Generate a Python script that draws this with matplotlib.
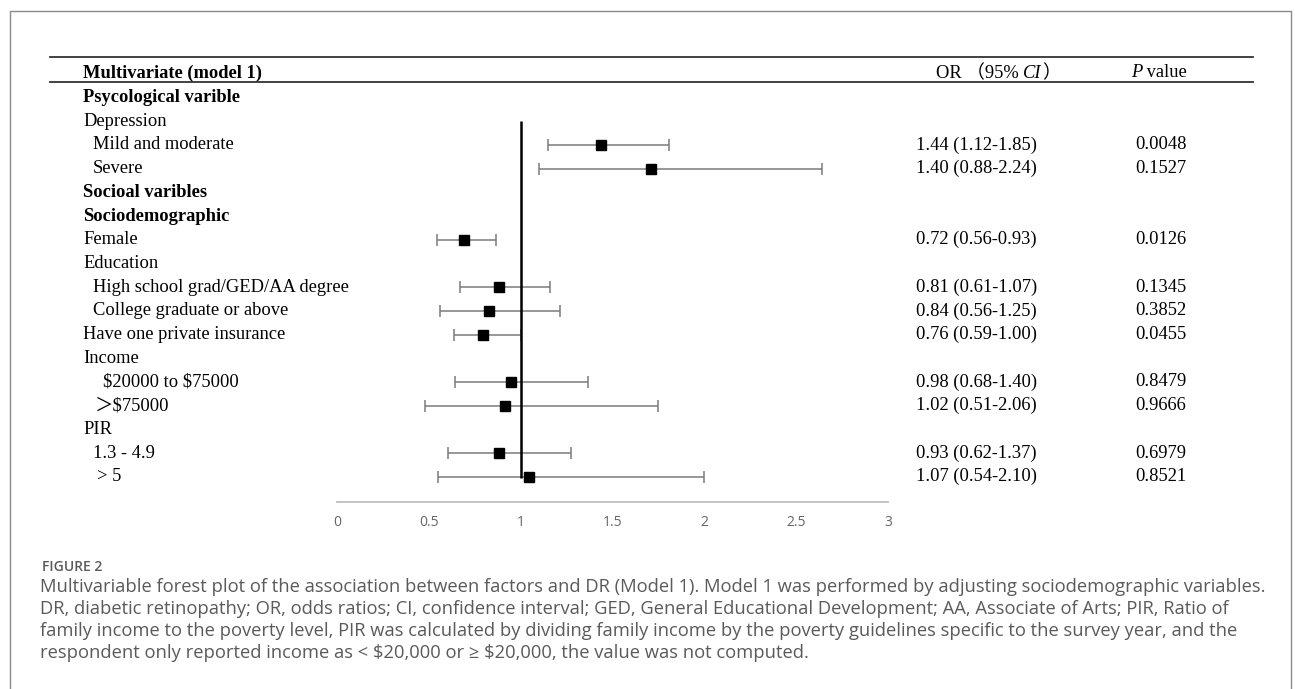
import matplotlib
matplotlib.use("Agg")
import matplotlib.pyplot as plt
import matplotlib.transforms as mtransforms
from matplotlib.lines import Line2D
import numpy as np

# ---- 数据 ----
labels = ["Psycological varible", "Depression", "Mild and moderate", "Severe",
          "Socioal varibles", "Sociodemographic", "Female", "Education",
          "High school grad/GED/AA degree", "College graduate or above",
          "Have one private insurance", "Income", "$20000 to $75000", "＞$75000",
          "PIR", "1.3 - 4.9", "> 5"]
bold = [True, False, False, False, True, True, False, False,
        False, False, False, False, False, False, False, False, False]
indent = [0, 0, 10, 10, 0, 0, 0, 0, 10, 10, 0, 0, 20, 12, 0, 10, 14]

# 图上方块和置信区间
or_plot = [np.nan, np.nan, 1.44, 1.71, np.nan, np.nan, 0.69, np.nan, 0.88, 0.83,
           0.795, np.nan, 0.945, 0.915, np.nan, 0.88, 1.045]
ci_low = [np.nan, np.nan, 1.15, 1.10, np.nan, np.nan, 0.545, np.nan, 0.67, 0.56,
          0.635, np.nan, 0.645, 0.48, np.nan, 0.605, 0.55]
ci_high = [np.nan, np.nan, 1.81, 2.64, np.nan, np.nan, 0.865, np.nan, 1.16, 1.215,
           1.00, np.nan, 1.365, 1.75, np.nan, 1.275, 2.0]

or_text = ["", "", "1.44 (1.12-1.85)", "1.40 (0.88-2.24)", "", "", "0.72 (0.56-0.93)", "",
           "0.81 (0.61-1.07)", "0.84 (0.56-1.25)", "0.76 (0.59-1.00)", "",
           "0.98 (0.68-1.40)", "1.02 (0.51-2.06)", "", "0.93 (0.62-1.37)", "1.07 (0.54-2.10)"]
p_text = ["", "", "0.0048", "0.1527", "", "", "0.0126", "", "0.1345", "0.3852", "0.0455", "",
          "0.8479", "0.9666", "", "0.6979", "0.8521"]

x_ticks = [0, 0.5, 1, 1.5, 2, 2.5, 3]

caption = ("Multivariable forest plot of the association between factors and DR (Model 1). "
           "Model 1 was performed by adjusting sociodemographic variables.\n"
           "DR, diabetic retinopathy; OR, odds ratios; CI, confidence interval; GED, General "
           "Educational Development; AA, Associate of Arts; PIR, Ratio of\n"
           "family income to the poverty level, PIR was calculated by dividing family income by "
           "the poverty guidelines specific to the survey year, and the\n"
           "respondent only reported income as < $20,000 or ≥ $20,000, the value was not computed.")

W, H = 1295, 689
SERIF = ["Liberation Serif", "Noto Sans CJK SC"]
FS = 13.3

fig = plt.figure(figsize=(W / 100, H / 100), dpi=100)

# 行坐标：第 0 行在 y=97.6 px，行距 23.7 px
row0, dy = 97.6, 23.7
def row_of(ypx):
    return (ypx - row0) / dy

ax_top, ax_bot = 40, 502
ax = fig.add_axes([337 / W, 1 - ax_bot / H, 551 / W, (ax_bot - ax_top) / H])
ax.set_xlim(0, 3)
ax.set_ylim(row_of(ax_bot), row_of(ax_top))

rows = np.arange(len(labels))
or_plot = np.array(or_plot)
ci_low = np.array(ci_low)
ci_high = np.array(ci_high)
err = [or_plot - ci_low, ci_high - or_plot]
ax.errorbar(or_plot, rows, xerr=err, fmt="none", ecolor="#7a7a7a", elinewidth=1.1,
            capsize=4, capthick=1.1)
ax.plot(or_plot, rows, "s", color="black", markersize=6.5)
ax.vlines(1, 0.97, 16.05, color="black", linewidth=1.8)

# 坐标轴样式
for s in ["top", "right", "left"]:
    ax.spines[s].set_visible(False)
ax.spines["bottom"].set_color("#bfbfbf")
ax.spines["bottom"].set_linewidth(1.3)
ax.set_yticks([])
ax.set_xticks(x_ticks)
ax.set_xticklabels([f"{t:g}" for t in x_ticks], fontsize=10, color="#666666",
                   family="Open Sans")
ax.tick_params(axis="x", which="major", length=0, pad=9)
ax.set_xticks([0, 3], minor=True)
ax.tick_params(axis="x", which="minor", length=4, color="#bfbfbf", width=1.3)
ax.patch.set_alpha(0)

blend = mtransforms.blended_transform_factory(fig.transFigure, ax.transData)

# 左侧标签
for i, lab in enumerate(labels):
    ax.text((83 + indent[i]) / W, i, lab, transform=blend, fontsize=FS, family=SERIF,
            fontweight="bold" if bold[i] else "normal", va="center", ha="left",
            parse_math=False)
    if or_text[i]:
        ax.text(916 / W, i, or_text[i], transform=blend, fontsize=FS, family=SERIF,
                va="center", ha="left")
        ax.text(1135 / W, i, p_text[i], transform=blend, fontsize=FS, family=SERIF,
                va="center", ha="left")

# 表头
hy = row_of(73)
ax.text(83 / W, hy, "Multivariate (model 1)", transform=blend, fontsize=FS, family=SERIF,
        fontweight="bold", va="center", ha="left")
t1 = ax.text(936 / W, hy, "OR （95% ", transform=blend, fontsize=FS, family=SERIF,
             va="center", ha="left")
t2 = ax.annotate("CI", xy=(1, 0), xycoords=t1, fontsize=FS, family=SERIF, style="italic",
                 va="bottom", ha="left")
ax.annotate("）", xy=(1, 0), xycoords=t2, fontsize=FS, family=SERIF, va="bottom", ha="left")
t3 = ax.text(1131 / W, hy, "P", transform=blend, fontsize=FS, family=SERIF, style="italic",
             va="center", ha="left")
ax.annotate(" value", xy=(1, 0), xycoords=t3, fontsize=FS, family=SERIF,
            va="bottom", ha="left")

for ypx in [57, 82]:
    fig.add_artist(Line2D([50 / W, 1253 / W], [1 - ypx / H] * 2, color="#333333",
                          linewidth=1.3, transform=fig.transFigure))

# 外框
fig.add_artist(Line2D([10 / W, 10 / W, 1291 / W, 1291 / W], [0, 1 - 11 / H, 1 - 11 / H, 0],
                      color="#8a8a8a", linewidth=1.0, transform=fig.transFigure))

# 图注
fig.text(42 / W, 1 - 567 / H, "FIGURE 2", fontsize=10, color="#5a5a5a", family="Open Sans",
         fontweight="semibold", va="center", ha="left")
fig.text(40 / W, 1 - 578 / H, caption, fontsize=13.2, color="#5a5a5a", family="Open Sans",
         va="top", ha="left", linespacing=1.28, parse_math=False)

fig.savefig("out.png", dpi=100)
